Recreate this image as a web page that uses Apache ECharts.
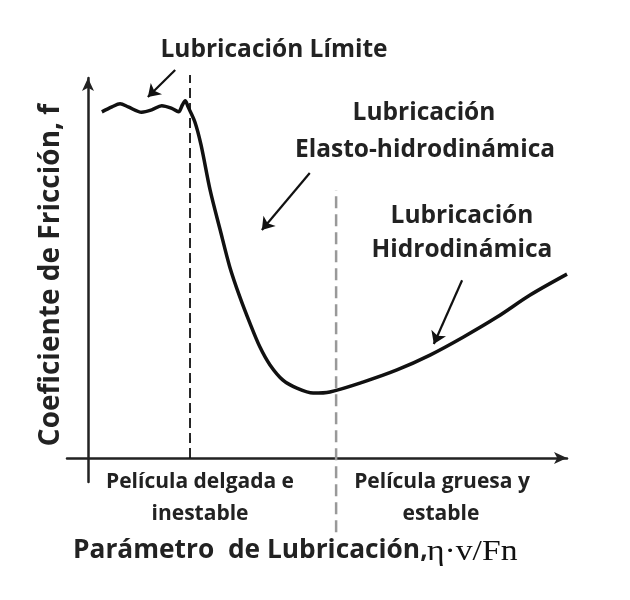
<!DOCTYPE html>
<html>
<head>
<meta charset="utf-8">
<script src="https://cdn.jsdelivr.net/npm/echarts@6/dist/echarts.min.js"></script>
<style>
  html, body { margin: 0; padding: 0; background: #fff; }
  #main { width: 630px; height: 600px; }
</style>
</head>
<body>
<div id="main"></div>
<script>
// Curva de Stribeck: coeficiente de fricción vs parámetro de lubricación (unidades relativas 0-100)
const curveX = [2.9, 5.0, 6.7, 8.4, 11.2, 13.3, 15.4, 17.5, 18.9, 19.7, 20.3, 20.9, 22.3, 23.6, 25.5, 27.6, 29.6,
  31.7, 33.8, 35.9, 38.0, 40.7, 43.6, 47.0, 50.5, 57.4, 64.5, 71.4, 78.3, 85.4, 92.3, 100];
const curveY = [91.1, 92.4, 93.2, 92.4, 91.0, 91.6, 92.7, 92.0, 91.1, 92.9, 94.0, 92.4, 88.5, 82.4, 70.5, 60.0, 50.3,
  42.4, 35.5, 29.2, 24.5, 20.5, 18.4, 17.1, 17.4, 20.0, 23.2, 27.1, 31.8, 37.1, 42.9, 48.4];

// límites entre regímenes
const limiteX = 21.3;
const limiteY = [0, 100.8];
const transicionX = 51.8;
const transicionY = [-19.5, 70.5];

// flechas de las etiquetas [x0, y0, x1, y1]
const flechas = [
  [18.2, 102.1, 12.5, 95.0],
  [46.3, 75.0, 36.3, 60.0],
  [78.1, 46.8, 72.2, 30.0]
];

const textoFuerte = { fontFamily: 'Open Sans', fontWeight: 'bold', fill: '#222' };

function etiqueta(text, x, y, size) {
  return {
    type: 'text',
    x: x,
    y: y,
    style: Object.assign({ text: text, fontSize: size, textAlign: 'center', textVerticalAlign: 'middle' }, textoFuerte)
  };
}

var myChart = echarts.init(document.getElementById('main'));

const option = {
  animation: false,
  grid: { left: 67, right: 63, top: 78, bottom: 118 },
  xAxis: {
    type: 'value',
    min: -4.38,
    max: 100,
    axisLine: {
      onZero: true,
      symbol: ['none', 'arrow'],
      symbolSize: [9, 13],
      lineStyle: { color: '#222', width: 2.5 }
    },
    axisTick: { show: false },
    axisLabel: { show: false },
    splitLine: { show: false }
  },
  yAxis: {
    type: 'value',
    min: -6.3,
    max: 100,
    axisLine: {
      onZero: true,
      symbol: ['none', 'arrow'],
      symbolSize: [9, 13],
      lineStyle: { color: '#222', width: 2.5 }
    },
    axisTick: { show: false },
    axisLabel: { show: false },
    splitLine: { show: false }
  },
  series: [
    {
      type: 'line',
      data: curveX.map((x, i) => [x, curveY[i]]),
      smooth: 0.3,
      symbol: 'none',
      lineStyle: { color: '#111', width: 3.5 },
      clip: false
    },
    {
      type: 'line',
      data: limiteY.map(y => [limiteX, y]),
      symbol: 'none',
      lineStyle: { color: '#111', width: 1.8, type: [10, 5] },
      clip: false
    },
    {
      type: 'line',
      data: transicionY.map(y => [transicionX, y]),
      symbol: 'none',
      lineStyle: { color: '#999', width: 2.5, type: [12, 6] },
      clip: false
    },
    {
      type: 'lines',
      coordinateSystem: 'cartesian2d',
      clip: false,
      symbol: ['none', 'arrow'],
      symbolSize: 12,
      lineStyle: { color: '#111', width: 2.2, opacity: 1 },
      data: flechas.map(f => ({ coords: [[f[0], f[1]], [f[2], f[3]]] }))
    }
  ],
  graphic: [
    etiqueta('Lubricación Límite', 274, 50, 24.5),
    etiqueta('Lubricación', 424, 113, 24.5),
    etiqueta('Elasto-hidrodinámica', 425, 150, 24.5),
    etiqueta('Lubricación', 462, 216, 24.5),
    etiqueta('Hidrodinámica', 462, 250, 24.5),
    etiqueta('Película delgada e', 200, 482, 21),
    etiqueta('inestable', 200, 514, 21),
    etiqueta('Película gruesa y', 442, 482, 21),
    etiqueta('estable', 441, 514, 21),
    {
      type: 'text',
      x: 51,
      y: 275,
      rotation: Math.PI / 2,
      style: Object.assign({ text: 'Coeficiente de Fricción, f', fontSize: 28, textAlign: 'center', textVerticalAlign: 'middle' }, textoFuerte)
    },
    {
      type: 'text',
      x: 73,
      y: 551,
      style: Object.assign({ text: 'Parámetro  de Lubricación,', fontSize: 26.3, textAlign: 'left', textVerticalAlign: 'middle' }, textoFuerte)
    },
    {
      type: 'text',
      x: 427,
      y: 552,
      scaleX: 1.16,
      style: { text: 'η·v/Fn', fontFamily: 'Liberation Serif', fontSize: 29, fill: '#111', textAlign: 'left', textVerticalAlign: 'middle' }
    }
  ]
};

myChart.setOption(option);
</script>
</body>
</html>
